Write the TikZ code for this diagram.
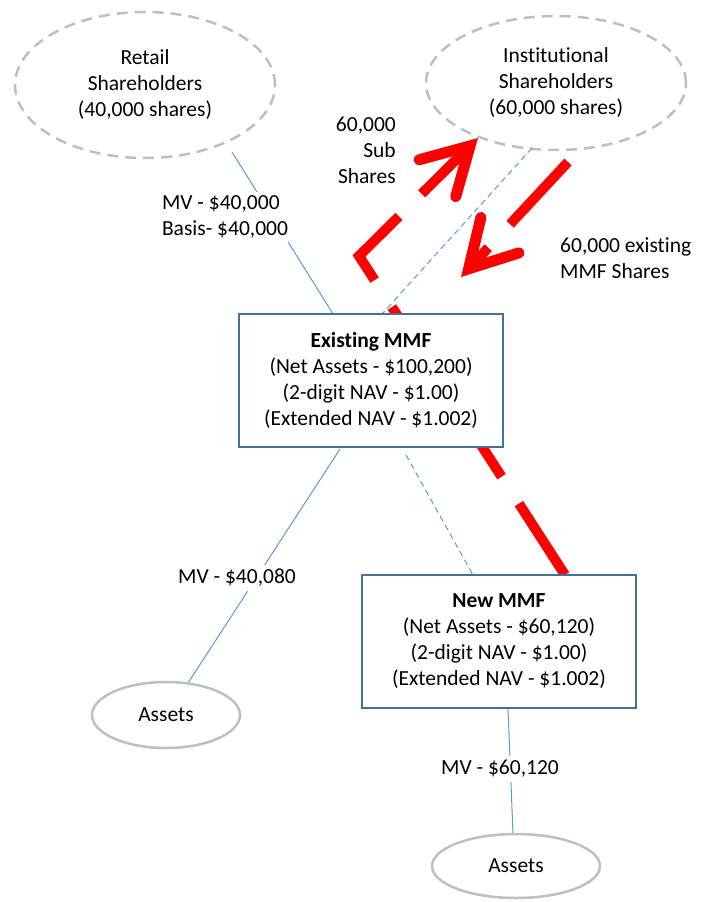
\documentclass[tikz,border=0pt]{standalone}
\usepackage{fontspec}
\setmainfont[Ligatures=NoCommon]{Carlito}
\usetikzlibrary{arrows.meta,shapes.geometric}
\definecolor{boxblue}{RGB}{65,113,156}
\definecolor{lineblue}{RGB}{91,155,213}
\definecolor{ellgray}{RGB}{191,191,191}
\begin{document}
\begin{tikzpicture}[x=1pt,y=-1pt,
  every node/.style={font=\fontsize{21.5}{26}\selectfont, inner sep=0pt},
  dashell/.style={ellipse, draw=ellgray, line width=2.5pt, dash pattern=on 11pt off 7pt, align=center},
  solidell/.style={ellipse, draw=ellgray, line width=2.5pt, fill=white},
  fundbox/.style={draw=boxblue, line width=2.5pt, fill=white, align=center, minimum height=133pt},
  bluelink/.style={draw=lineblue, line width=1pt},
  bluedash/.style={draw=lineblue, line width=1pt, dash pattern=on 6pt off 4pt},
  redflow/.style={draw=red, line width=10pt, dash pattern=on 85pt off 32pt, miter limit=10,
     -{Straight Barb[length=46pt,width=52pt,line width=11pt,line cap=round,line join=miter]}},
  vallabel/.style={fill=white, inner sep=4pt, align=left}
]
\useasboundingbox (0,0) rectangle (706,902);

% shareholders
\node[dashell, minimum width=260pt, minimum height=146pt] (retail) at (145,85)
  {Retail\\Shareholders\\(40,000 shares)};
\node[dashell, minimum width=260pt, minimum height=134pt] (instit) at (556,83)
  {Institutional\\Shareholders\\(60,000 shares)};

% connector end points
\coordinate (r1) at (232,152);
\coordinate (r2) at (333,314);
\coordinate (i1) at (532,148);
\coordinate (i2) at (382,314);
\coordinate (e1) at (340,449);
\coordinate (a1) at (188,683);
\coordinate (e2) at (406,455);
\coordinate (n1) at (473,575);
\coordinate (n2) at (508,709);
\coordinate (a2) at (513,834);
\coordinate (u1) at (565,575);
\coordinate (u2) at (359,256);
\coordinate (u3) at (478,138);
\coordinate (d1) at (568,162);
\coordinate (d2) at (461,277);

% thin links
\draw[bluelink] (r1) -- (r2);
\draw[bluedash] (i1) -- (i2);
\draw[bluelink] (e1) -- (a1);
\draw[bluedash] (e2) -- (n1);
\draw[bluelink] (n2) -- (a2);

% red flows
\draw[redflow] (u1) -- (u2) -- (u3);
\draw[redflow] (d1) -- (d2);

% funds
\node[fundbox, minimum width=264pt] (exist) at (371,380.5)
  {\textbf{Existing MMF}\\(Net Assets - \$100,200)\\(2-digit NAV - \$1.00)\\(Extended NAV - \$1.002)};
\node[fundbox, minimum width=274pt] (newmmf) at (499,641.5)
  {\textbf{New MMF}\\(Net Assets - \$60,120)\\(2-digit NAV - \$1.00)\\(Extended NAV - \$1.002)};

% assets
\node[solidell, minimum width=148pt, minimum height=66pt] (assetsL) at (166,715) {Assets};
\node[solidell, minimum width=168pt, minimum height=64pt] (assetsR) at (516,866) {Assets};

% labels
\node[vallabel] (lblret) at (225,217) {MV - \$40,000\\Basis- \$40,000};
\node[vallabel] (lblL) at (237,578) {MV - \$40,080};
\node[vallabel] (lblR) at (500,769) {MV - \$60,120};
\node[align=right, anchor=east] (lblsub) at (396,150) {60,000\\Sub\\Shares};
\node[align=left, anchor=west] (lblred) at (560,258) {60,000 existing\\MMF Shares};
\end{tikzpicture}
\end{document}
